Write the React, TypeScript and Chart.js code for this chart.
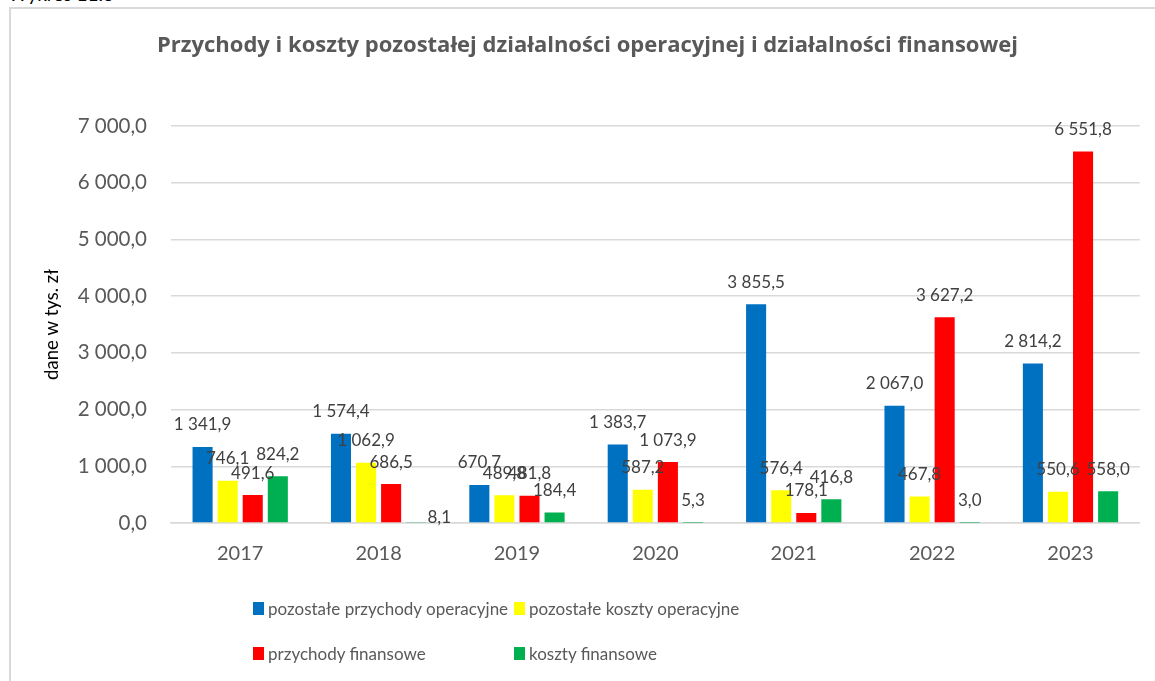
import React, { useEffect, useRef } from "react";
import { Chart, registerables } from "chart.js";

Chart.register(...registerables);

// ---------- data ----------
const categories = ["2017", "2018", "2019", "2020", "2021", "2022", "2023"];
const seriesNames = [
  "pozostałe przychody operacyjne",
  "pozostałe koszty operacyjne",
  "przychody finansowe",
  "koszty finansowe",
];
const pozostalePrzychodyOperacyjne = [1341.9, 1574.4, 670.7, 1383.7, 3855.5, 2067.0, 2814.2];
const pozostaleKosztyOperacyjne = [746.1, 1062.9, 489.8, 587.2, 576.4, 467.8, 550.6];
const przychodyFinansowe = [491.6, 686.5, 481.8, 1073.9, 178.1, 3627.2, 6551.8];
const kosztyFinansowe = [824.2, 8.1, 184.4, 5.3, 416.8, 3.0, 558.0];
const yTickValues = [0, 1000, 2000, 3000, 4000, 5000, 6000, 7000];

const chartTitle =
  "Przychody i koszty pozostałej działalności operacyjnej i działalności finansowej";
const yAxisTitle = "dane w tys. zł";
const captionText = "Wykres 11.3";

// ---------- styles ----------
const seriesColors = ["#0070C0", "#FFFF00", "#FF0000", "#00B050"];
const FONT = "Lato";
const TITLE_FONT = "'Open Sans'";
const TEXT_GRAY = "#595959";
const LABEL_GRAY = "#404040";
const GRID = "#d9d9d9";

// label nudges (Excel moved this one label)
const labelNudges: Record<string, [number, number]> = { "3-1": [23, 17] };

function fmt(v: number): string {
  const s = Math.abs(v).toFixed(1);
  const [i, d] = s.split(".");
  const grouped = i.replace(/\B(?=(\d{3})+(?!\d))/g, " ");
  return (v < 0 ? "-" : "") + grouped + "," + d;
}

const dataLabelPlugin = {
  id: "dataLabels",
  afterDatasetsDraw(chart: any) {
    const ctx = chart.ctx;
    ctx.save();
    ctx.font = `17px ${FONT}`;
    ctx.fillStyle = LABEL_GRAY;
    ctx.textAlign = "center";
    ctx.textBaseline = "middle";
    chart.data.datasets.forEach((ds: any, di: number) => {
      const meta = chart.getDatasetMeta(di);
      meta.data.forEach((el: any, i: number) => {
        const n = labelNudges[`${di}-${i}`] || [0, 0];
        ctx.fillText(fmt(ds.data[i]), el.x + n[0], el.y - 22 + n[1]);
      });
    });
    ctx.restore();
  },
};

export default function App() {
  const canvasRef = useRef<HTMLCanvasElement | null>(null);

  useEffect(() => {
    if (!canvasRef.current) return;
    const seriesData = [
      pozostalePrzychodyOperacyjne,
      pozostaleKosztyOperacyjne,
      przychodyFinansowe,
      kosztyFinansowe,
    ];
    const chart = new Chart(canvasRef.current, {
      type: "bar",
      data: {
        labels: categories,
        datasets: seriesData.map((d, i) => ({
          label: seriesNames[i],
          data: d,
          backgroundColor: seriesColors[i],
          borderWidth: 0,
          categoryPercentage: 0.725,
          barPercentage: 0.8,
        })),
      },
      options: {
        responsive: false,
        animation: false,
        devicePixelRatio: 1,
        layout: { padding: { left: 35.3, right: 35.3, top: 0, bottom: 134 } },
        plugins: {
          legend: { display: false },
          tooltip: { enabled: false },
          title: {
            display: true,
            text: chartTitle,
            color: TEXT_GRAY,
            font: { family: TITLE_FONT, size: 22, weight: "bold" },
            padding: { top: 33, bottom: 66.6 },
          },
        },
        scales: {
          x: {
            grid: { display: false, drawTicks: false },
            border: { display: true, color: GRID, width: 1.5 },
            ticks: {
              color: TEXT_GRAY,
              font: { family: FONT, size: 20 },
              padding: 19,
            },
            afterFit: (s: any) => {
              s.height = 43;
            },
          },
          y: {
            min: 0,
            max: 7000,
            afterBuildTicks: (s: any) => {
              s.ticks = yTickValues.map((v) => ({ value: v }));
            },
            grid: { color: GRID, lineWidth: 1.5, drawTicks: false },
            border: { display: false },
            ticks: {
              color: TEXT_GRAY,
              font: { family: FONT, size: 20.5 },
              padding: 24,
              callback: (v: any) => fmt(Number(v)),
            },
            title: {
              display: true,
              text: yAxisTitle,
              color: "#000000",
              font: { family: FONT, size: 18.5 },
              padding: { top: 6, bottom: 0 },
            },
            afterFit: (s: any) => {
              s.width = 135.7;
            },
          },
        },
      },
      plugins: [dataLabelPlugin],
    });
    return () => chart.destroy();
  }, []);

  const legendPos = [
    { left: 253, top: 608 },
    { left: 514, top: 608 },
    { left: 253, top: 653 },
    { left: 514, top: 653 },
  ];

  return (
    <div
      style={{
        position: "fixed",
        left: 0,
        top: 0,
        width: 1155,
        height: 681,
        overflow: "hidden",
        background: "#ffffff",
      }}
    >
      <div
        style={{
          position: "absolute",
          left: 8,
          top: -16,
          font: `19px ${FONT}`,
          lineHeight: "19px",
          color: "#000",
          whiteSpace: "nowrap",
        }}
      >
        {captionText}
      </div>
      <div
        style={{
          position: "absolute",
          left: 9,
          top: 7,
          width: 1300,
          height: 900,
          border: `2px solid ${GRID}`,
          boxSizing: "border-box",
        }}
      />
      <canvas
        ref={canvasRef}
        width={1175}
        height={700}
        style={{ position: "absolute", left: 0, top: 0, width: 1175, height: 700 }}
      />
      {seriesNames.map((name, i) => (
        <div
          key={name}
          style={{
            position: "absolute",
            left: legendPos[i].left,
            top: legendPos[i].top - 12,
            height: 24,
            display: "flex",
            alignItems: "center",
            whiteSpace: "nowrap",
            font: `17px ${FONT}`,
            color: TEXT_GRAY,
          }}
        >
          <span
            style={{
              display: "inline-block",
              width: 11,
              height: 13,
              background: seriesColors[i],
              marginRight: 4,
            }}
          />
          <span>{name}</span>
        </div>
      ))}
    </div>
  );
}
